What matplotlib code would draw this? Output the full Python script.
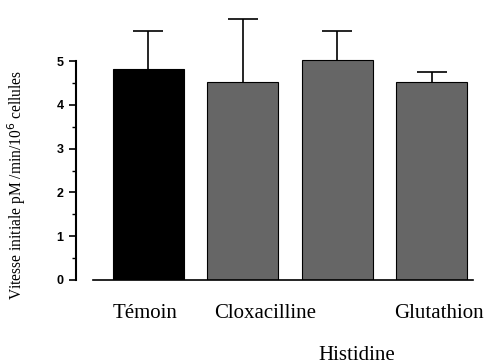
import matplotlib.pyplot as plt
import numpy as np

### data ###
groupes = ["Témoin", "Cloxacilline", "Histidine", "Glutathion"]
vitesse = [4.82, 4.51, 5.02, 4.51]
erreur = [0.86, 1.44, 0.66, 0.23]
couleurs = ["#000000", "#666666", "#666666", "#666666"]

W, H = 486, 363
fig = plt.figure(figsize=(W / 100, H / 100), dpi=100)

# axes placed in pixels: y=0 at 280px, y=5 at 61px
y0_px, unit_px = 280, 43.8
ymax = 6.2
ax = fig.add_axes([76 / W, (H - y0_px) / H, (W - 76) / W, ymax * unit_px / H])

step = 94.5
pos = np.arange(len(groupes))
ax.bar(pos, vitesse, width=71 / step, color=couleurs, edgecolor="black", linewidth=0.8, zorder=2)
eb = ax.errorbar(pos, vitesse, yerr=[np.zeros(len(erreur)), erreur], fmt="none",
                 ecolor="black", elinewidth=1.2, capsize=11, capthick=1.2, zorder=1)
eb[1][0].set_visible(False)  # pas de cap en bas

ax.set_xlim(-(148 - 76) / step, 3 + (W - (148 + 3 * step)) / step)
ax.set_ylim(0, ymax)

for s in ["top", "right"]:
    ax.spines[s].set_visible(False)
ax.spines["left"].set_bounds(0, 5)
ax.spines["left"].set_linewidth(1.5)
ax.spines["bottom"].set_bounds((92.7 - 148) / step, (473 - 148) / step)
ax.spines["bottom"].set_linewidth(1.2)

ax.set_xticks([])
ax.set_yticks(range(6))
ax.set_yticks(np.arange(0.5, 5, 1), minor=True)
ax.tick_params(axis="y", which="major", length=5, width=1.2, pad=4)
ax.tick_params(axis="y", which="minor", length=3, width=1.0)
for lab in ax.get_yticklabels():
    lab.set_fontfamily("Liberation Sans")
    lab.set_fontweight("bold")
    lab.set_fontsize(9)

ax.set_ylabel("Vitesse initiale pM /min/10$^{6}$ cellules", family="Liberation Serif",
              fontsize=11.2)
ax.yaxis.set_label_coords((28 - 76) / (W - 76), (y0_px - 185) / (ymax * unit_px))

# category labels
lab_px = [(145, 313), (265, 313), (357, 355), (439, 313)]
for nom, (xp, yp) in zip(groupes, lab_px):
    fig.text(xp / W, 1 - yp / H, nom, family="Liberation Serif", fontsize=15,
             ha="center", va="center")

fig.savefig("out.png", dpi=100)
